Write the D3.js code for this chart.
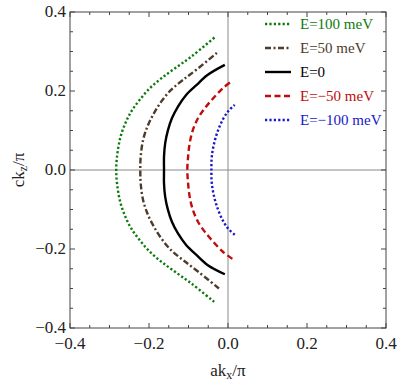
<!DOCTYPE html>
<html lang="en">
<head>
  <meta charset="UTF-8" />
  <title>Fermi contours</title>
  <script src="https://d3js.org/d3.v7.min.js"></script>
  <style>
    body { margin: 0; background: #fff; }
    text { font-family: "Liberation Serif", "DejaVu Serif", serif; }
  </style>
</head>
<body>
  <svg id="chart" width="399" height="382"></svg>

  <script>
    // curve points [ak_x/pi, ck_z/pi], bottom to top
    const greenPts = [[-0.035,-0.334],[-0.093,-0.287],[-0.135,-0.257],[-0.169,-0.232],[-0.198,-0.207],
      [-0.224,-0.177],[-0.245,-0.148],[-0.260,-0.118],[-0.272,-0.084],[-0.280,-0.042],[-0.283,0],
      [-0.280,0.042],[-0.272,0.084],[-0.260,0.118],[-0.245,0.148],[-0.224,0.177],[-0.198,0.207],
      [-0.169,0.232],[-0.135,0.257],[-0.093,0.287],[-0.030,0.339]];
    const brownPts = [[-0.023,-0.300],[-0.076,-0.257],[-0.114,-0.228],[-0.144,-0.203],[-0.169,-0.173],
      [-0.190,-0.139],[-0.204,-0.110],[-0.215,-0.076],[-0.221,-0.034],[-0.222,0],[-0.221,0.034],
      [-0.215,0.076],[-0.204,0.110],[-0.190,0.139],[-0.169,0.173],[-0.144,0.203],[-0.114,0.228],
      [-0.076,0.257],[-0.023,0.301]];
    const blackPts = [[-0.008,-0.264],[-0.051,-0.241],[-0.080,-0.215],[-0.106,-0.190],[-0.127,-0.160],
      [-0.142,-0.131],[-0.152,-0.101],[-0.159,-0.068],[-0.162,-0.034],[-0.162,0],[-0.162,0.034],
      [-0.159,0.068],[-0.152,0.101],[-0.142,0.131],[-0.127,0.160],[-0.106,0.190],[-0.080,0.215],
      [-0.051,0.241],[-0.008,0.266]];
    const redPts = [[0.011,-0.225],[-0.013,-0.207],[-0.038,-0.181],[-0.059,-0.156],[-0.076,-0.131],
      [-0.089,-0.101],[-0.097,-0.068],[-0.101,-0.034],[-0.103,0],[-0.101,0.034],[-0.097,0.068],
      [-0.089,0.101],[-0.076,0.131],[-0.059,0.156],[-0.038,0.181],[-0.013,0.207],[0.011,0.226]];
    const bluePts = [[0.017,-0.164],[0.000,-0.148],[-0.013,-0.128],[-0.025,-0.101],[-0.035,-0.068],
      [-0.041,-0.034],[-0.042,0],[-0.041,0.034],[-0.035,0.068],[-0.025,0.101],[-0.013,0.128],
      [0.000,0.148],[0.017,0.165]];

    const seriesNames = ["E=100 meV", "E=50 meV", "E=0", "E=\u221250 meV", "E=\u2212100 meV"];
    const seriesData = [greenPts, brownPts, blackPts, redPts, bluePts];
    const colors = ["#0e7a0e", "#4e3b2b", "#000000", "#bf0d0d", "#1818c8"];
    const dashes = ["2.2,2.2", "6,2.5,2,2.5", null, "6,3.5", "2.2,2.2"];

    const tickVals = [-0.4, -0.2, 0, 0.2, 0.4];
    const minorVals = d3.range(-8, 9).map(i => i * 0.05);

    const pL = 70, pR = 386, pT = 12, pB = 328;
    const x = d3.scaleLinear().domain([-0.4, 0.4]).range([pL, pR]);
    const y = d3.scaleLinear().domain([-0.4, 0.4]).range([pB, pT]);

    const svg = d3.select("#chart");
    const fmt = v => (v < 0 ? "\u2212" : "") + Math.abs(v).toFixed(1);

    // zero lines
    svg.append("line").attr("x1", x(0)).attr("x2", x(0)).attr("y1", pT).attr("y2", pB)
      .attr("stroke", "#8a8a8a").attr("stroke-width", 1);
    svg.append("line").attr("x1", pL).attr("x2", pR).attr("y1", y(0)).attr("y2", y(0))
      .attr("stroke", "#8a8a8a").attr("stroke-width", 1);

    // curves
    const line = d3.line().x(d => x(d[0])).y(d => y(d[1])).curve(d3.curveCatmullRom);
    seriesData.forEach((pts, i) => {
      svg.append("path").attr("d", line(pts))
        .attr("fill", "none")
        .attr("stroke", colors[i])
        .attr("stroke-width", 2.4)
        .attr("stroke-dasharray", dashes[i]);
    });

    // frame
    svg.append("rect").attr("x", pL).attr("y", pT).attr("width", pR - pL).attr("height", pB - pT)
      .attr("fill", "none").attr("stroke", "#444").attr("stroke-width", 1);

    // ticks on all four sides, pointing inward
    const tk = svg.append("g").attr("stroke", "#444").attr("stroke-width", 1);
    minorVals.forEach(v => {
      const major = tickVals.some(t => Math.abs(t - v) < 1e-9);
      const len = major ? 5 : 3;
      tk.append("line").attr("x1", x(v)).attr("x2", x(v)).attr("y1", pB).attr("y2", pB - len);
      tk.append("line").attr("x1", x(v)).attr("x2", x(v)).attr("y1", pT).attr("y2", pT + len);
      tk.append("line").attr("y1", y(v)).attr("y2", y(v)).attr("x1", pL).attr("x2", pL + len);
      tk.append("line").attr("y1", y(v)).attr("y2", y(v)).attr("x1", pR).attr("x2", pR - len);
    });

    // tick labels
    svg.selectAll(".xl").data(tickVals).join("text")
      .attr("x", d => x(d)).attr("y", pB + 21)
      .attr("text-anchor", "middle").attr("font-size", 17).attr("fill", "#222")
      .text(fmt);
    svg.selectAll(".yl").data(tickVals).join("text")
      .attr("x", pL - 4).attr("y", d => y(d) + 5)
      .attr("text-anchor", "end").attr("font-size", 17).attr("fill", "#222")
      .text(fmt);

    // axis titles
    const xt = svg.append("text").attr("x", x(0)).attr("y", 376).attr("text-anchor", "middle")
      .attr("font-size", 17).attr("fill", "#222");
    xt.append("tspan").text("ak");
    xt.append("tspan").attr("font-size", 12).attr("dy", 3).text("x");
    xt.append("tspan").attr("dy", -3).text("/\u03c0");

    const yt = svg.append("text").attr("transform", `translate(24,${y(0)}) rotate(-90)`)
      .attr("text-anchor", "middle").attr("font-size", 17).attr("fill", "#222");
    yt.append("tspan").text("ck");
    yt.append("tspan").attr("font-size", 12).attr("dy", 3).text("z");
    yt.append("tspan").attr("dy", -3).text("/\u03c0");

    // legend
    const lg = svg.append("g");
    seriesNames.forEach((name, i) => {
      const ly = 24 + i * 24;
      lg.append("line").attr("x1", 265).attr("x2", 291).attr("y1", ly).attr("y2", ly)
        .attr("stroke", colors[i]).attr("stroke-width", 2.4).attr("stroke-dasharray", dashes[i]);
      lg.append("text").attr("x", 300).attr("y", ly + 5).attr("font-size", 15)
        .attr("fill", colors[i]).text(name);
    });
  </script>
</body>
</html>
